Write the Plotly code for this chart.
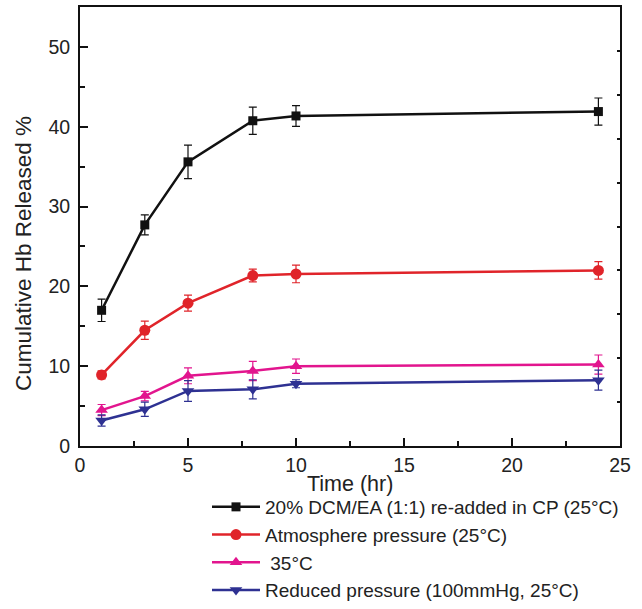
import plotly.graph_objects as go

time_hr = [1, 3, 5, 8, 10, 24]

names = [
    "20% DCM/EA (1:1) re-added in CP (25°C)",
    "Atmosphere pressure (25°C)",
    " 35°C",
    "Reduced pressure (100mmHg, 25°C)",
]
dcm_ea = [17.0, 27.7, 35.6, 40.75, 41.35, 41.9]
dcm_ea_err = [1.4, 1.25, 2.1, 1.7, 1.3, 1.7]
atmos = [8.9, 14.5, 17.9, 21.35, 21.55, 22.0]
atmos_err = [0.5, 1.15, 1.0, 0.8, 1.1, 1.1]
temp35 = [4.5, 6.25, 8.8, 9.4, 10.0, 10.2]
temp35_err = [0.7, 0.6, 1.0, 1.2, 0.9, 1.2]
reduced = [3.2, 4.6, 6.9, 7.1, 7.8, 8.25]
reduced_err = [0.7, 0.9, 1.3, 1.2, 0.5, 1.25]

series = [dcm_ea, atmos, temp35, reduced]
errors = [dcm_ea_err, atmos_err, temp35_err, reduced_err]
colors = ["#111111", "#e0242a", "#e2158e", "#2e3192"]
symbols = ["square", "circle", "triangle-up", "triangle-down"]
sizes = [9, 11, 11, 11]

fig = go.Figure()
for name, ys, es, c, s, sz in zip(names, series, errors, colors, symbols, sizes):
    fig.add_trace(go.Scatter(
        x=time_hr, y=ys, name=name, mode="lines+markers",
        line=dict(color=c, width=2.5),
        marker=dict(symbol=s, size=sz, color=c),
        error_y=dict(type="data", array=es, visible=True, color=c, thickness=1.2, width=4),
    ))

# invisible trace for the right-hand tick axis
fig.add_trace(go.Scatter(x=[0], y=[0], yaxis="y2", mode="markers",
                         marker=dict(opacity=0), showlegend=False, hoverinfo="skip"))

W, H = 642, 609
L, T = 80, 7
plot_right, plot_bottom = 620, 446
paper_w, paper_h = W - L, H - T
x_dom = [0, (plot_right - L) / paper_w]
y_dom = [(H - plot_bottom) / paper_h, 1]

font = "Liberation Sans, Arial, Helvetica, sans-serif"
fig.update_layout(
    width=W, height=H,
    margin=dict(l=L, r=0, t=T, b=0),
    paper_bgcolor="white", plot_bgcolor="white",
    font=dict(family=font, size=19, color="#222222"),
    showlegend=True,
    legend=dict(
        x=(207 - L) / paper_w, y=0, xanchor="left", yanchor="bottom",
        font=dict(size=19, color="#222222"),
        tracegroupgap=0, itemwidth=48,
        bgcolor="rgba(0,0,0,0)",
    ),
    xaxis=dict(
        domain=x_dom,
        range=[0, 25], tickvals=[0, 5, 10, 15, 20, 25], ticks="inside", ticklen=8,
        tickwidth=1.5, tickcolor="#111", automargin=False, ticklabelstandoff=1,
        minor=dict(tickvals=[2.5, 7.5, 12.5, 17.5, 22.5], ticks="inside", ticklen=5,
                   tickwidth=1.5, tickcolor="#111"),
        showline=True, linecolor="#111", linewidth=2, mirror=True,
        showgrid=False, zeroline=False,
        tickfont=dict(size=19.5),
    ),
    yaxis=dict(
        domain=y_dom,
        range=[0, 55], tickvals=[0, 10, 20, 30, 40, 50], ticks="inside", ticklen=8,
        tickwidth=1.5, tickcolor="#111", automargin=False, ticklabelstandoff=4,
        minor=dict(tickvals=[5, 15, 25, 35, 45], ticks="inside", ticklen=5,
                   tickwidth=1.5, tickcolor="#111"),
        showline=True, linecolor="#111", linewidth=2,
        showgrid=False, zeroline=False,
        tickfont=dict(size=19.5),
    ),
    yaxis2=dict(
        domain=y_dom,
        overlaying="y", side="right", range=[0, 55], tick0=0, dtick=5.5,
        ticks="inside", ticklen=3, tickwidth=1.5, tickcolor="#111",
        showticklabels=False, showgrid=False, zeroline=False, automargin=False,
        showline=True, linecolor="#111", linewidth=2,
    ),
    annotations=[
        dict(
            text="Time (hr)", xref="paper", yref="paper",
            x=(x_dom[0] + x_dom[1]) / 2, y=(H - 484) / paper_h,
            xanchor="center", yanchor="middle", showarrow=False,
            font=dict(size=21.5, color="#222222"),
        ),
        dict(
            text="Cumulative Hb Released %", xref="paper", yref="paper",
            x=(24 - L) / paper_w, y=(H - 254) / paper_h, textangle=-90,
            xanchor="center", yanchor="middle", showarrow=False,
            font=dict(size=22.5, color="#222222"),
        ),
    ],
)

fig.write_html("out.html", config={"displayModeBar": False},
               post_script="document.body.style.margin='0';")
